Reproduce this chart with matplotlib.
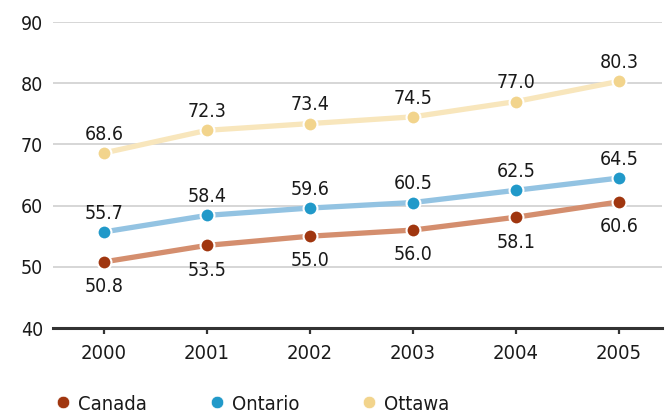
import matplotlib
matplotlib.use("Agg")
import matplotlib.pyplot as plt
from matplotlib.lines import Line2D

years = [2000, 2001, 2002, 2003, 2004, 2005]
canada = [50.8, 53.5, 55.0, 56.0, 58.1, 60.6]
ontario = [55.7, 58.4, 59.6, 60.5, 62.5, 64.5]
ottawa = [68.6, 72.3, 73.4, 74.5, 77.0, 80.3]
series_names = ["Canada", "Ontario", "Ottawa"]
yticks = [40, 50, 60, 70, 80, 90]

plt.rcParams['font.family'] = ['DejaVu Sans']
plt.rcParams['font.stretch'] = 'condensed'

fig = plt.figure(figsize=(6.65, 4.13), dpi=100)
ax = fig.add_axes([53/665, 1-328/413, 609/665, (328-22)/413])

styles = [
    (canada, "#D48E6E", "#A0360F", -1),
    (ontario, "#93C3E2", "#2199C9", 1),
    (ottawa, "#F8E6BC", "#F2D48C", 1),
]
for vals, lc, mc, side in styles:
    ax.plot(years, vals, color=lc, lw=3.8, zorder=3, solid_capstyle='butt')
    ax.plot(years, vals, ls='none', marker='o', ms=10, mfc=mc, mec='white', mew=1.5, zorder=4)
    for x, v in zip(years, vals):
        off = 9.5 if side > 0 else -11
        ax.annotate(f"{v:.1f}", (x, v), xytext=(0, off), textcoords='offset points',
                    ha='center', va='baseline' if side > 0 else 'top', fontsize=14,
                    color='#1a1a1a', fontstretch='condensed')

ax.set_xlim(1999.505, 2005.42)
ax.set_ylim(40, 90)
ax.set_yticks(yticks)
ax.set_xticks(years)
ax.set_xticklabels([str(y) for y in years], fontsize=14.5, color='#1a1a1a')
ax.set_yticklabels([str(t) for t in yticks], fontsize=14, color='#1a1a1a')
ax.tick_params(axis='y', length=0, pad=7)
ax.tick_params(axis='x', length=4.5, width=1.6, color='#333333', pad=7)
ax.grid(axis='y', color='#d0d0d0', lw=1.2, zorder=0)
for s in ['top', 'right', 'left']:
    ax.spines[s].set_visible(False)
ax.spines['bottom'].set_color('#333333')
ax.spines['bottom'].set_linewidth(2.2)
ax.set_axisbelow(True)

handles = [Line2D([], [], ls='none', marker='o', ms=9, mfc=c, mec='white', mew=0.5)
           for c in ["#A0360F", "#2199C9", "#F2D48C"]]
leg = fig.legend(handles, series_names, loc='center left', bbox_to_anchor=(53/665, 1-404/413), ncol=3,
                 frameon=False, fontsize=14.5, handletextpad=0.25, columnspacing=2.95,
                 handlelength=1.0, borderpad=0, borderaxespad=0)
for t in leg.get_texts():
    t.set_color('#1a1a1a')

fig.savefig("out.png", dpi=100)
